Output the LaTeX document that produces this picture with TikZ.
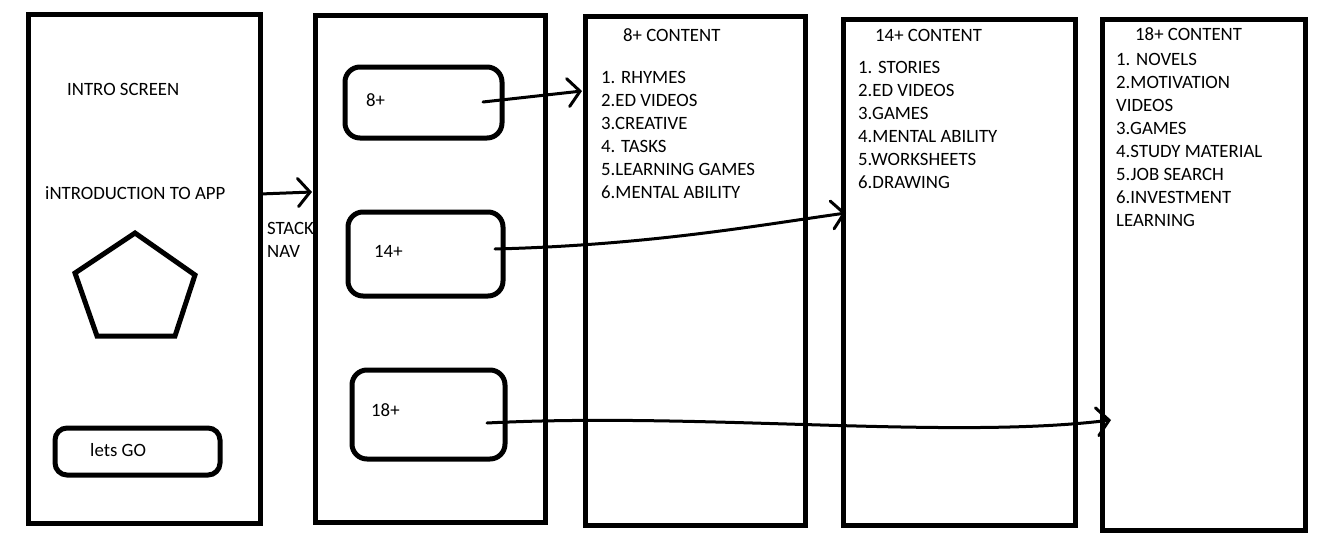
\documentclass[tikz,border=0pt]{standalone}
\usepackage{fontspec}
\setmainfont{Carlito}
\usetikzlibrary{arrows.meta}
\begin{document}
\begin{tikzpicture}[x=1pt,y=-1pt,
  screen/.style={draw,line width=5pt,inner sep=0pt},
  option/.style={draw,line width=5pt,rounded corners=15pt,inner sep=0pt},
  txt/.style={inner sep=0pt,anchor=west,font=\fontsize{18.8}{23}\selectfont},
  list/.style={inner sep=0pt,anchor=north west,align=left,font=\fontsize{18.8}{23}\selectfont},
  conn/.style={line width=3pt,line cap=round,-{Straight Barb[length=12pt,width=28pt,line width=3pt,line cap=round]}}]
\useasboundingbox (0,0) rectangle (1321,549);
% texts first
\node[txt] (t1) at (67,89) {INTRO SCREEN};
\node[txt] (t2) at (45,193) {iNTRODUCTION TO APP};
\node[list] (stack) at (267,222) {STACK\\NAV};
\node[txt] (l8) at (366,100) {8+};
\node[txt] (l14) at (374,251) {14+};
\node[txt] (l18) at (371,410) {18+};
\node[txt] (lgo) at (90,450) {lets GO};
\node[txt] (h8) at (623,35) {8+ CONTENT};
\node[list] (c8list) at (601,71) {1. RHYMES\\2.ED VIDEOS\\3.CREATIVE\\4. TASKS\\5.LEARNING GAMES\\6.MENTAL ABILITY};
\node[txt] (h14) at (875,35) {14+ CONTENT};
\node[list] (c14list) at (858,61) {1. STORIES\\2.ED VIDEOS\\3.GAMES\\4.MENTAL ABILITY\\5.WORKSHEETS\\6.DRAWING};
\node[txt] (h18) at (1135,34) {18+ CONTENT};
\node[list] (c18list) at (1116,53) {1. NOVELS\\2.MOTIVATION\\VIDEOS\\3.GAMES\\4.STUDY MATERIAL\\5.JOB SEARCH\\6.INVESTMENT\\LEARNING};
% screens
\node[screen,minimum width=232pt,minimum height=509pt] (s1) at (144,268.5) {};
\node[screen,minimum width=230pt,minimum height=507pt] (s2) at (430,268.5) {};
\node[screen,minimum width=220pt,minimum height=509pt] (s3) at (695,270.5) {};
\node[screen,minimum width=232pt,minimum height=506pt] (s4) at (959,272) {};
\node[screen,minimum width=203pt,minimum height=511pt] (s5) at (1203.5,274.5) {};
% buttons
\node[option,rounded corners=12pt,minimum width=165pt,minimum height=47pt] (go) at (137.5,451.5) {};
\node[option,minimum width=157pt,minimum height=71pt] (b8) at (423.5,102.5) {};
\node[option,minimum width=155pt,minimum height=84pt] (b14) at (425.5,254) {};
\node[option,minimum width=153pt,minimum height=89pt] (b18) at (428.5,414.5) {};
% pentagon
\draw[line width=5pt,line join=miter] (135,233) -- (195,275) -- (175,336) -- (97,336) -- (75,273) -- cycle;
% connectors
\coordinate (i1) at (260,194);
\coordinate (i2) at (312,192);
\coordinate (a8) at (483,102);
\coordinate (e8) at (582,91);
\coordinate (a14) at (495,249);
\coordinate (e14) at (846,213);
\coordinate (a18) at (487,423);
\coordinate (e18) at (1111,420);
\draw[conn] (i1) -- (i2);
\draw[conn] (a8) -- (e8);
\draw[conn] (a14) .. controls (650,245) and (760,225) .. (e14);
\draw[conn] (a18) .. controls (700,412) and (950,440) .. (e18);
\end{tikzpicture}
\end{document}
